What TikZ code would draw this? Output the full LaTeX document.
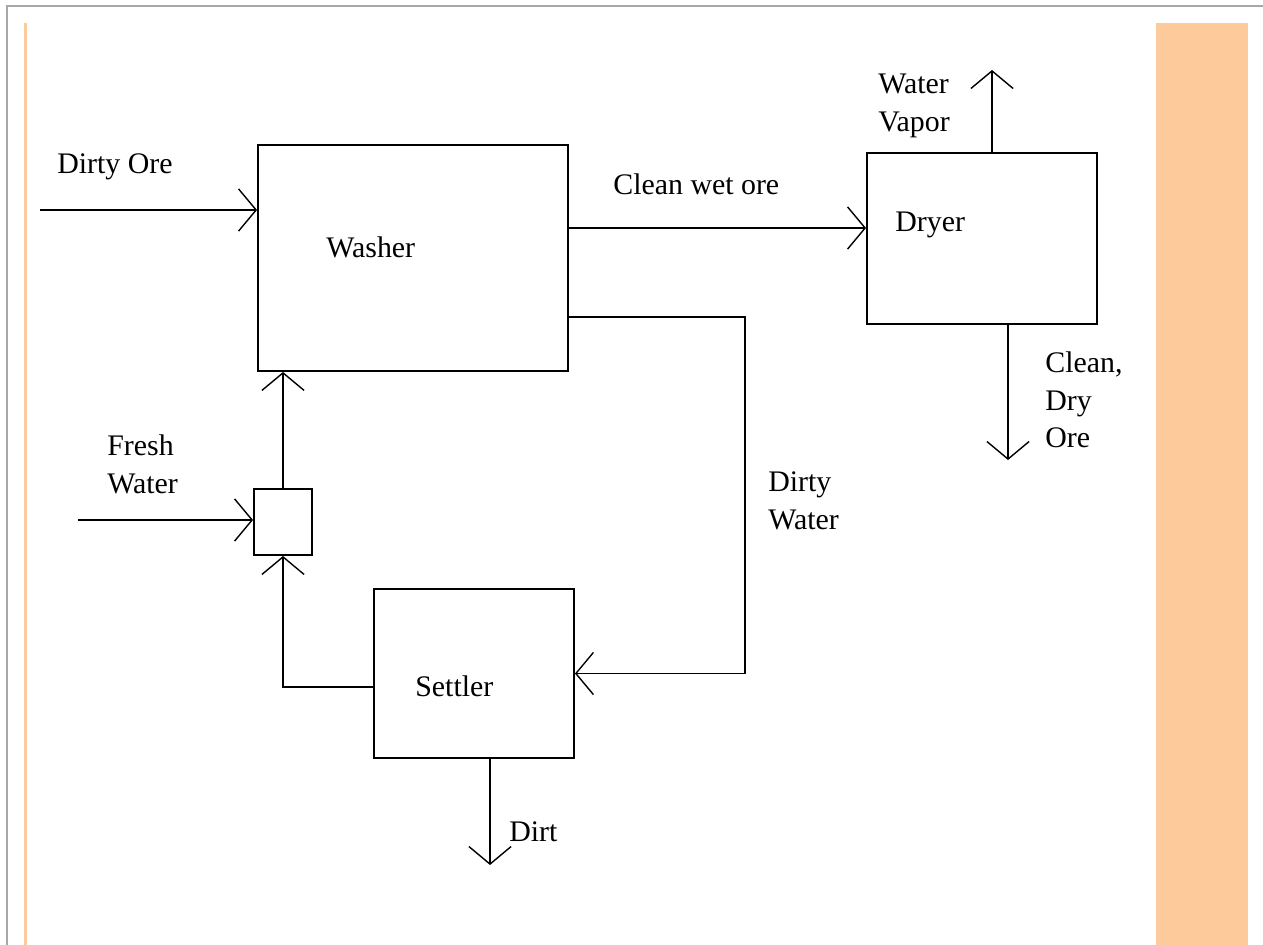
\documentclass[tikz,border=0pt]{standalone}
\usepackage{fontspec}
\setmainfont{Liberation Serif}
\usetikzlibrary{arrows.meta}
\definecolor{panel}{HTML}{FDCB9B}
\definecolor{frame}{HTML}{A8A8A8}

\begin{document}
\begin{tikzpicture}[x=0.02cm,y=-0.02cm]
\tikzstyle{every node}=[font=\fontsize{17}{21.5}\selectfont]
\tikzstyle{unit}=[draw,line width=1.1pt,inner sep=0pt]
\tikzstyle{tag}=[anchor=west,inner sep=0pt,align=left]
\tikzstyle{flow}=[line width=1.1pt,-{Straight Barb[length=10pt,width=24pt,line width=0.8pt]}]
\useasboundingbox (0,0) rectangle (1263,945);
\draw[frame,line width=1.2pt] (7,945) -- (7,6) -- (1263,6);
\fill[panel] (24,23) rectangle (27,945);
\fill[panel] (1156,23) rectangle (1248,945);
\node[unit,minimum width=6.2cm,minimum height=4.52cm] (washer) at (413,258) {};
\node[unit,minimum width=4.6cm,minimum height=3.42cm] (dryer) at (982,238.5) {};
\node[unit,minimum width=1.16cm,minimum height=1.32cm] (mixer) at (283,522) {};
\node[unit,minimum width=4cm,minimum height=3.38cm] (settler) at (474,673.5) {};
\node[tag] (washerTxt) at (326,247) {Washer};
\node[tag] (dryerTxt) at (895,225) {Dryer};
\node[tag] (settlerTxt) at (415,686) {Settler};
\node[tag] (oreTxt) at (57,167) {Dirty Ore};
\node[tag] (wetTxt) at (613,184) {Clean wet ore};
\node[tag] (vaporTxt) at (878,106) {Water\\Vapor};
\node[tag] (dryTxt) at (1045,400) {Clean,\\Dry\\Ore};
\node[tag] (freshTxt) at (107,464) {Fresh\\Water};
\node[tag] (dirtyTxt) at (768,501) {Dirty\\Water};
\node[tag] (dirtTxt) at (509,832) {Dirt};
\coordinate (oreIn) at (40,210);
\coordinate (vapor) at (992,70);
\coordinate (dryOre) at (1008,460);
\coordinate (loop) at (745,317);
\coordinate (freshIn) at (78,520);
\coordinate (dirt) at (490,865);
\draw[flow] (oreIn) -- (oreIn -| washer.west);
\draw[flow] ([yshift=0.6cm]washer.east) -- ([yshift=0.6cm]washer.east -| dryer.west);
\draw[flow] (vapor |- dryer.north) -- (vapor);
\draw[flow] (dryOre |- dryer.south) -- (dryOre);
\draw[flow] (loop -| washer.east) -- (loop) |- (settler.east);
\draw[flow] ([yshift=-0.27cm]settler.west) -| (mixer.south);
\draw[flow] (freshIn) -- (freshIn -| mixer.west);
\draw[flow] (mixer.north) -- (mixer.north |- washer.south);
\draw[flow] (dirt |- settler.south) -- (dirt);
\end{tikzpicture}
\end{document}
